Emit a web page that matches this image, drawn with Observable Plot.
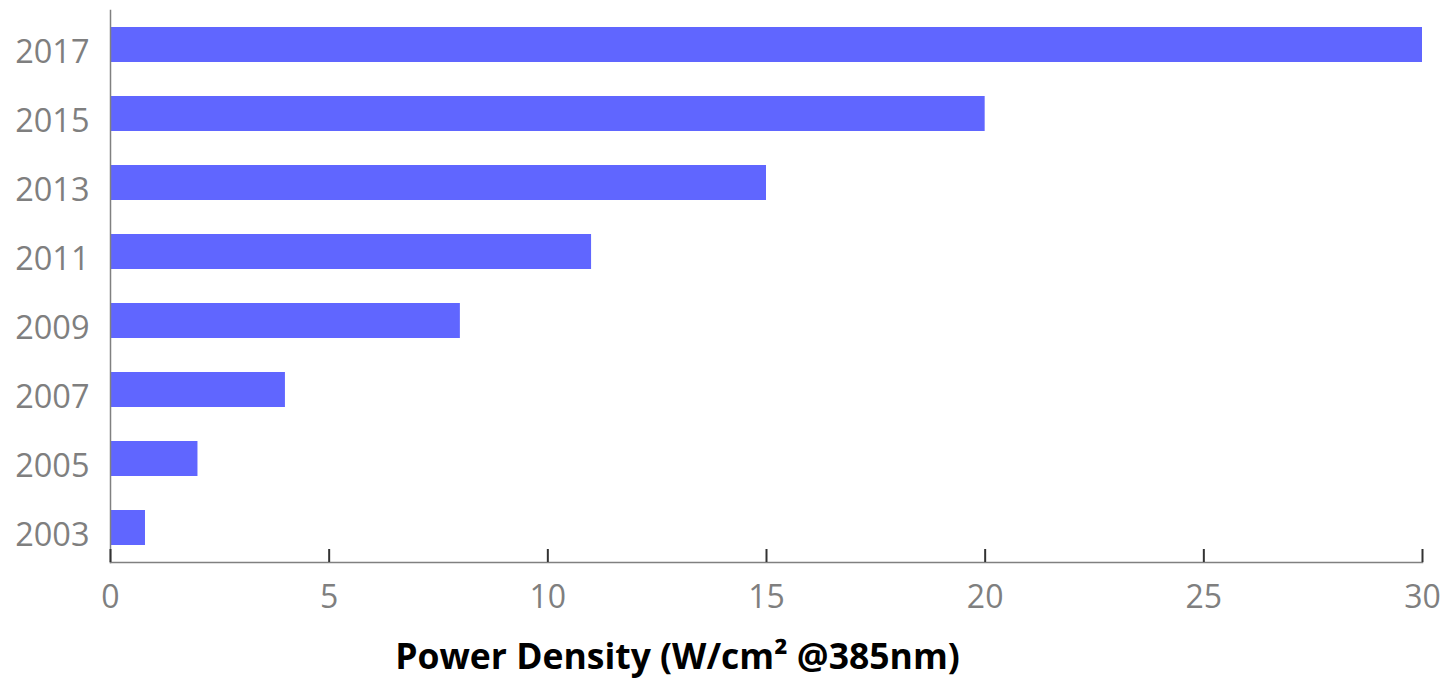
<!DOCTYPE html>
<html>
<head>
<meta charset="utf-8">
<script src="https://cdn.jsdelivr.net/npm/d3@7"></script>
<script src="https://cdn.jsdelivr.net/npm/@observablehq/plot@0.6"></script>
<style>
  html, body { margin: 0; padding: 0; background: #fff; }
  #chart svg { display: block; font-family: "Open Sans", sans-serif; }
</style>
</head>
<body>
<div id="chart"></div>
<script>
const years = ["2003", "2005", "2007", "2009", "2011", "2013", "2015", "2017"];
const powerDensity = [0.8, 2, 4, 8, 11, 15, 20, 30];
const xTicks = [0, 5, 10, 15, 20, 25, 30];
const xLabel = "Power Density (W/cm² @385nm)";

const data = years.map((y, i) => ({year: y, value: powerDensity[i]}));

const chart = Plot.plot({
  width: 1443,
  height: 680,
  marginLeft: 110,
  marginRight: 21,
  marginTop: 10,
  marginBottom: 118,
  style: {fontFamily: "Open Sans, sans-serif", background: "#fff"},
  x: {domain: [0, 30]},
  y: {domain: years.slice().reverse(), paddingInner: 0.5, paddingOuter: 0.25},
  marks: [
    Plot.barX(data, {x: "value", y: "year", fill: "#6066FF"}),
    Plot.frame({anchor: "left", stroke: "#808080", strokeWidth: 1.5}),
    Plot.frame({anchor: "bottom", stroke: "#808080", strokeWidth: 1.5}),
    Plot.tickX(xTicks, {x: d => d, insetTop: 539, stroke: "#333", strokeWidth: 2}),
    Plot.axisX({
      ticks: xTicks,
      tickSize: 0,
      tickPadding: 23,
      fontSize: 32,
      fill: "#7f7f7f",
      label: null
    }),
    Plot.axisY({
      tickSize: 0,
      tickPadding: 21,
      fontSize: 32.5,
      fill: "#7f7f7f",
      dy: 8,
      label: null
    }),
    Plot.text([xLabel], {
      text: d => d,
      frameAnchor: "bottom",
      dx: -89,
      dy: 106,
      fontSize: 35.5,
      fontWeight: "bold",
      fill: "#000"
    })
  ]
});
document.getElementById("chart").appendChild(chart);
</script>
</body>
</html>
